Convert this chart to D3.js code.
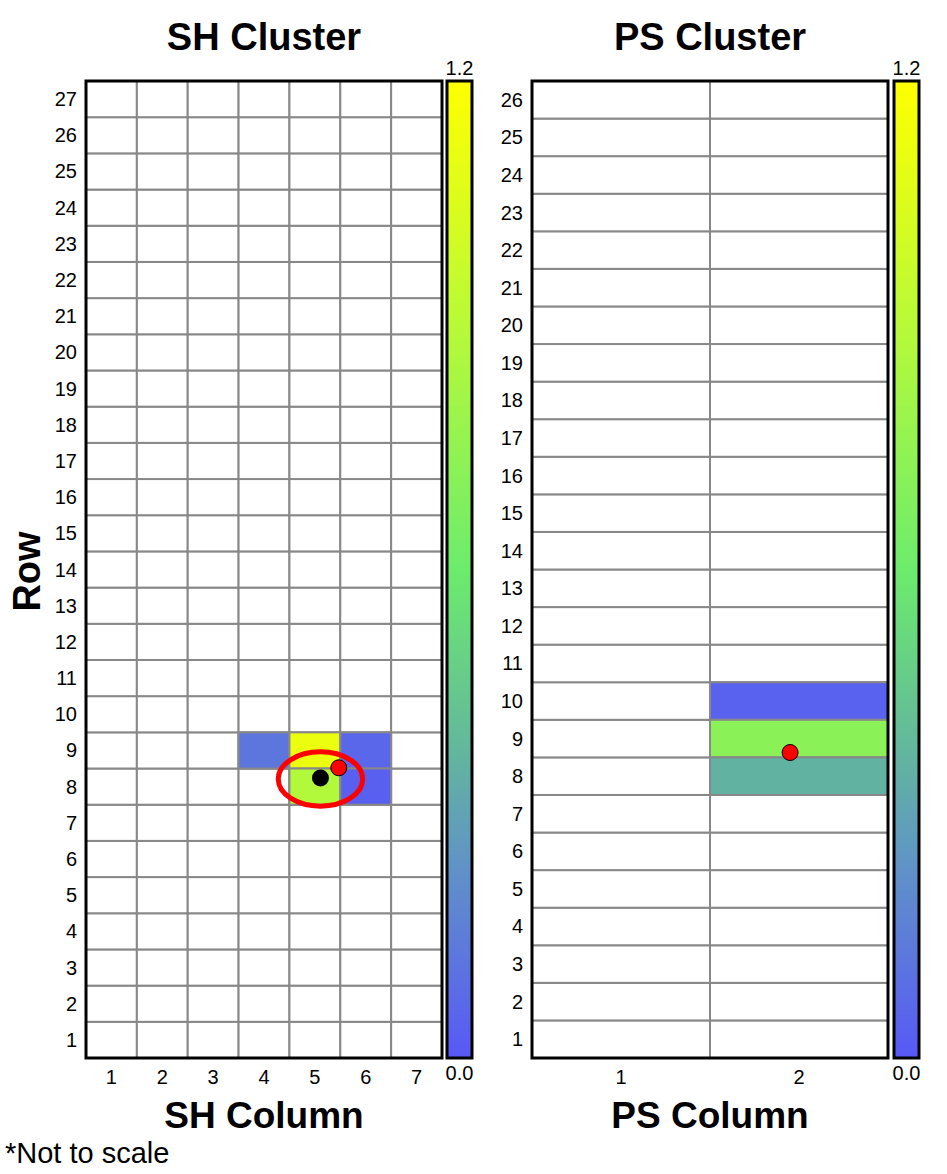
<!DOCTYPE html>
<html>
<head>
<meta charset="utf-8">
<script src="https://cdn.jsdelivr.net/npm/d3@7"></script>
<style>
  body { margin: 0; background: #fff; }
  text { font-family: "Liberation Sans", Arial, sans-serif; }
</style>
</head>
<body>
<div class="chart"></div>
<script>
// data
var shCols = [1, 2, 3, 4, 5, 6, 7];
var shRows = d3.range(1, 28);
var psCols = [1, 2];
var psRows = d3.range(1, 27);

// filled cells: [column, row, value]
var shCells = [[4, 9, 0.12], [5, 9, 1.12], [6, 9, 0.06], [5, 8, 0.88], [6, 8, 0.03]];
var psCells = [[2, 10, 0.04], [2, 9, 0.72], [2, 8, 0.36]];

// markers: [column, row]
var shBlackDot = [5.11, 8.24];
var shRedDot = [5.47, 8.52];
var shEllipse = [5.11, 8.21, 0.83, 0.75]; // cx, cy, rx, ry in cell units
var psRedDot = [1.95, 8.63];

var colorRange = [0, 1.2];
var colorStops = [0, 0.2, 0.3, 0.5, 0.75, 1];
var colorHex = ["#5858f6", "#6094c6", "#62b2a2", "#6cec6c", "#b8fa38", "#ffff00"];

var svgWidth = 947, svgHeight = 1174;
var svg = d3.select(".chart").append("svg")
  .attr("width", svgWidth).attr("height", svgHeight);

var color = d3.scaleLinear()
  .domain(colorStops.map(function(s) { return colorRange[0] + s * (colorRange[1] - colorRange[0]); }))
  .range(colorHex);

var plotTop = 81, plotBottom = 1058;

function panel(opt) {
  var g = svg.append("g");
  var x = d3.scaleLinear().domain([0.5, opt.cols.length + 0.5]).range([opt.left, opt.right]);
  var y = d3.scaleLinear().domain([0.5, opt.rows.length + 0.5]).range([plotBottom, plotTop]);
  var cw = x(1.5) - x(0.5), ch = y(0.5) - y(1.5);

  // grid cells
  var all = [];
  opt.cols.forEach(function(c) { opt.rows.forEach(function(r) { all.push([c, r]); }); });
  g.selectAll("rect.cell").data(all).enter().append("rect")
    .attr("x", function(d) { return x(d[0] - 0.5); })
    .attr("y", function(d) { return y(d[1] + 0.5); })
    .attr("width", cw).attr("height", ch)
    .attr("fill", "#fff").attr("stroke", "#888").attr("stroke-width", 2);

  g.selectAll("rect.fill").data(opt.cells).enter().append("rect")
    .attr("x", function(d) { return x(d[0] - 0.5); })
    .attr("y", function(d) { return y(d[1] + 0.5); })
    .attr("width", cw).attr("height", ch)
    .attr("fill", function(d) { return color(d[2]); })
    .attr("stroke", "#888").attr("stroke-width", 2);

  g.append("rect")
    .attr("x", opt.left).attr("y", plotTop)
    .attr("width", opt.right - opt.left).attr("height", plotBottom - plotTop)
    .attr("fill", "none").attr("stroke", "#000").attr("stroke-width", 3);

  // ticks
  g.selectAll("text.ylab").data(opt.rows).enter().append("text")
    .attr("x", opt.left - 9).attr("y", function(d) { return y(d) + 7; })
    .attr("text-anchor", "end").attr("font-size", 20)
    .text(function(d) { return d; });
  g.selectAll("text.xlab").data(opt.cols).enter().append("text")
    .attr("x", function(d) { return x(d); }).attr("y", 1084)
    .attr("text-anchor", "middle").attr("font-size", 20)
    .text(function(d) { return d; });

  // titles
  g.append("text").attr("x", (opt.left + opt.right) / 2).attr("y", 50)
    .attr("text-anchor", "middle").attr("font-size", 38).attr("font-weight", "bold")
    .text(opt.title);
  g.append("text").attr("x", (opt.left + opt.right) / 2).attr("y", 1128)
    .attr("text-anchor", "middle").attr("font-size", 37).attr("font-weight", "bold")
    .text(opt.xtitle);

  // colorbar
  var gid = "grad" + opt.id;
  var grad = svg.append("defs").append("linearGradient").attr("id", gid)
    .attr("x1", 0).attr("y1", 1).attr("x2", 0).attr("y2", 0);
  colorStops.forEach(function(s, i) {
    grad.append("stop").attr("offset", s).attr("stop-color", colorHex[i]);
  });
  g.append("rect").attr("x", opt.cbx).attr("y", plotTop)
    .attr("width", 25).attr("height", plotBottom - plotTop)
    .attr("fill", "url(#" + gid + ")").attr("stroke", "#000").attr("stroke-width", 3);
  g.append("text").attr("x", opt.cbx + 12.5).attr("y", 75)
    .attr("text-anchor", "middle").attr("font-size", 20).text(d3.format(".1f")(colorRange[1]));
  g.append("text").attr("x", opt.cbx + 12.5).attr("y", 1080)
    .attr("text-anchor", "middle").attr("font-size", 20).text(d3.format(".1f")(colorRange[0]));

  return { g: g, x: x, y: y, cw: cw, ch: ch };
}

var sh = panel({ id: "sh", cols: shCols, rows: shRows, cells: shCells, left: 86, right: 442,
  cbx: 447, title: "SH Cluster", xtitle: "SH Column" });
var ps = panel({ id: "ps", cols: psCols, rows: psRows, cells: psCells, left: 532, right: 888,
  cbx: 894, title: "PS Cluster", xtitle: "PS Column" });

// markers
sh.g.append("ellipse")
  .attr("cx", sh.x(shEllipse[0])).attr("cy", sh.y(shEllipse[1]))
  .attr("rx", shEllipse[2] * sh.cw).attr("ry", shEllipse[3] * sh.ch)
  .attr("fill", "none").attr("stroke", "#f00").attr("stroke-width", 5);
sh.g.append("circle")
  .attr("cx", sh.x(shBlackDot[0])).attr("cy", sh.y(shBlackDot[1])).attr("r", 8.5)
  .attr("fill", "#000");
sh.g.append("circle")
  .attr("cx", sh.x(shRedDot[0])).attr("cy", sh.y(shRedDot[1])).attr("r", 8)
  .attr("fill", "#f00").attr("stroke", "#000").attr("stroke-width", 1);
ps.g.append("circle")
  .attr("cx", ps.x(psRedDot[0])).attr("cy", ps.y(psRedDot[1])).attr("r", 8)
  .attr("fill", "#f00").attr("stroke", "#000").attr("stroke-width", 1);

// labels
svg.append("text")
  .attr("transform", "translate(40," + ((plotTop + plotBottom) / 2 + 2) + ") rotate(-90)")
  .attr("text-anchor", "middle").attr("font-size", 38).attr("font-weight", "bold")
  .text("Row");
svg.append("text").attr("x", 5).attr("y", 1163).attr("font-size", 29).text("*Not to scale");
</script>
</body>
</html>
